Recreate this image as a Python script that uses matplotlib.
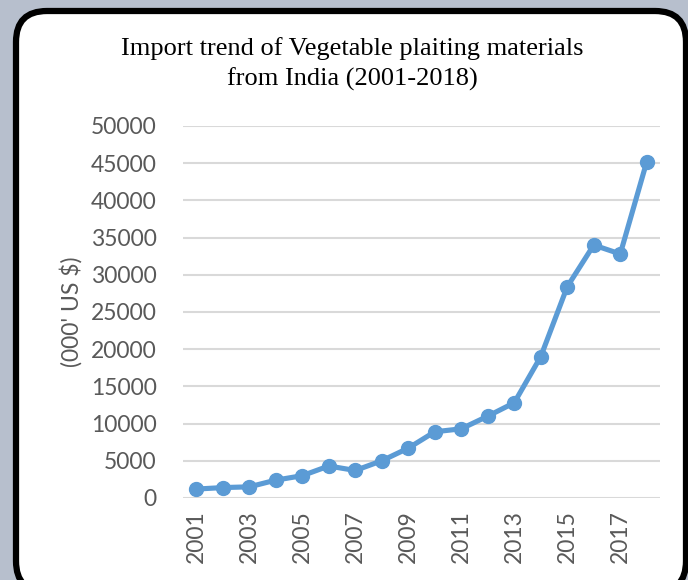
import matplotlib.pyplot as plt
from matplotlib.patches import FancyBboxPatch

# ---------------------------------------------------------------------------
# Data
# ---------------------------------------------------------------------------
years = [2001, 2002, 2003, 2004, 2005, 2006, 2007, 2008, 2009,
         2010, 2011, 2012, 2013, 2014, 2015, 2016, 2017, 2018]
imports = [1200, 1400, 1500, 2400, 3000, 4300, 3700, 5000, 6700,
           8900, 9300, 11000, 12800, 19000, 28400, 34000, 32800, 45200]
yticks = [0, 5000, 10000, 15000, 20000, 25000, 30000, 35000, 40000, 45000, 50000]

W, H = 688, 580
fig = plt.figure(figsize=(W / 100, H / 100), dpi=100)
fig.patch.set_facecolor("#B7BFCD")

# white rounded card with black border (figure pixel coords)
card = FancyBboxPatch((16 / W, -12 / H), 670 / W, 581 / H,
                      boxstyle="round,pad=0,rounding_size=0.045",
                      transform=fig.transFigure, facecolor="white",
                      edgecolor="black", linewidth=4.5, zorder=-10,
                      mutation_aspect=W / H)
fig.patches.append(card)

ax = fig.add_axes([183 / W, 1 - 498 / H, 477 / W, 372 / H])
ax.set_facecolor("none")

x = list(range(len(years)))
ax.plot(x, imports, color="#5B9BD5", linewidth=3.7, marker="o",
        markersize=10, zorder=3)

ax.set_xlim(-0.5, len(years) - 0.5)
ax.set_ylim(0, 50000)
ax.set_yticks(yticks)
ax.set_yticklabels([str(v) for v in yticks])
ax.set_xticks(x[::2])
ax.set_xticklabels([str(y) for y in years[::2]], rotation=90)

ax.grid(axis="y", color="#D9D9D9", linewidth=1.5)
ax.set_axisbelow(True)
for s in ax.spines.values():
    s.set_visible(False)
ax.tick_params(axis="y", length=0, labelsize=16.5, labelcolor="#595959", pad=19)
ax.tick_params(axis="x", length=0, labelsize=16.5, labelcolor="#595959", pad=9)
for lab in ax.get_xticklabels() + ax.get_yticklabels():
    lab.set_fontfamily("Lato")

ax.set_ylabel("(000' US $)", fontsize=16.5, color="#595959", family="Lato",
              labelpad=6)

fig.text(352 / W, 1 - 64 / H,
         "Import trend of Vegetable plaiting materials\nfrom India (2001-2018)",
         ha="center", va="center", fontsize=19, family="Liberation Serif",
         linespacing=1.38)

plt.savefig("out.png", dpi=100, facecolor=fig.get_facecolor())
